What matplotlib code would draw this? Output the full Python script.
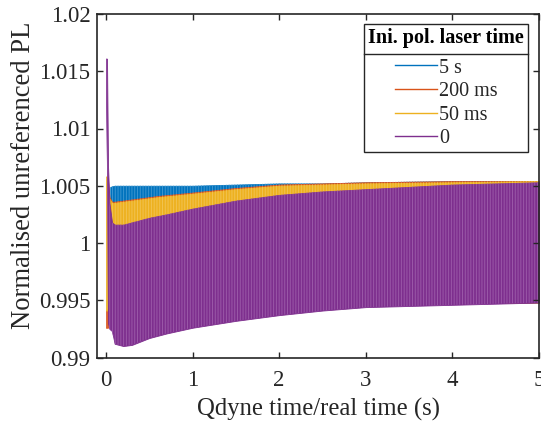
import matplotlib
matplotlib.use("Agg")
import matplotlib.pyplot as plt
from matplotlib.lines import Line2D
from matplotlib.ticker import FixedLocator, FuncFormatter

plt.rcParams['font.family'] = ['Liberation Serif', 'DejaVu Serif']
plt.rcParams['hatch.linewidth'] = 0.7

# Envelopes (upper / lower extent of the oscillating PL signal) per initial polarisation time
t_5s = [0.05, 0.1, 0.3, 0.6, 1.0, 1.5, 2.0, 2.5, 3.0, 4.0, 5.0]
up_5s = [1.0049, 1.0050, 1.0050, 1.0050, 1.0050, 1.0051, 1.0052, 1.0052, 1.0053, 1.0054, 1.0054]
lo_5s = [0.9947, 0.9948, 0.9948, 0.9948, 0.9948, 0.9948, 0.9948, 0.9948, 0.9948, 0.9948, 0.9948]

t_200ms = [0.0, 0.023, 0.04, 0.07, 0.1, 0.3, 0.6, 1.0, 1.5, 2.0, 2.5, 3.0, 4.0, 5.0]
up_200ms = [1.0055, 1.0055, 1.0040, 1.0036, 1.0036, 1.0038, 1.0041, 1.0044, 1.0048, 1.0051, 1.0052, 1.0053, 1.0054, 1.0054]
lo_200ms = [0.9926, 0.9926, 0.9935, 0.9944, 0.9946, 0.9946, 0.9947, 0.9947, 0.9947, 0.9947, 0.9947, 0.9948, 0.9948, 0.9948]

t_50ms = [0.0, 0.012, 0.03, 0.07, 0.1, 0.3, 0.6, 1.0, 1.5, 2.0, 2.5, 3.0, 4.0, 5.0]
up_50ms = [1.0058, 1.0058, 1.0040, 1.0035, 1.0035, 1.0037, 1.0040, 1.0043, 1.0047, 1.0050, 1.0051, 1.0052, 1.0053, 1.0054]
lo_50ms = [0.9941, 0.9941, 0.9944, 0.9945, 0.9946, 0.9946, 0.9947, 0.9947, 0.9947, 0.9947, 0.9947, 0.9948, 0.9948, 0.9948]

t_0 = [0.0, 0.012, 0.024, 0.04, 0.07, 0.1, 0.2, 0.3, 0.5, 0.7, 1.0, 1.5, 2.0, 2.5, 3.0, 3.5, 4.0, 4.5, 5.0]
up_0 = [1.0161, 1.0161, 1.0067, 1.0035, 1.0018, 1.0016, 1.0016, 1.0018, 1.0022, 1.0025, 1.0030, 1.0037, 1.0042, 1.0045, 1.0047, 1.0049, 1.0051, 1.0052, 1.0053]
lo_0 = [1.0127, 1.0067, 0.9930, 0.9925, 0.9923, 0.9912, 0.9910, 0.9911, 0.9917, 0.9921, 0.9926, 0.9932, 0.9937, 0.9941, 0.9944, 0.9945, 0.9946, 0.9947, 0.9948]

labels = ['5 s', '200 ms', '50 ms', '0']
colors = ['#0072BD', '#D95319', '#EDB120', '#7E2F8E']
stripe_colors = ['#3a95d0', '#e07a4c', '#f2c350', '#9a58a8']
series = [(t_5s, up_5s, lo_5s), (t_200ms, up_200ms, lo_200ms),
          (t_50ms, up_50ms, lo_50ms), (t_0, up_0, lo_0)]

x_ticks = [0, 1, 2, 3, 4, 5]
y_ticks = [0.99, 0.995, 1.0, 1.005, 1.01, 1.015, 1.02]

W, H = 541, 425
fig = plt.figure(figsize=(W / 100, H / 100), dpi=100)
ax = fig.add_axes([97.3 / W, 1 - 357.5 / H, (539 - 97.3) / W, (357.5 - 14) / H])

axcol = '#262626'
handles = []
for (t, up, lo), c, sc, lab in zip(series, colors, stripe_colors, labels):
    # solid band of the signal's oscillation range, with fine vertical stripes
    ax.fill_between(t, lo, up, facecolor=c, edgecolor=c, linewidth=0.6)
    ax.fill_between(t, lo, up, facecolor='none', edgecolor=sc, linewidth=0,
                    hatch='||||||')
    handles.append(Line2D([0], [0], color=c, lw=1.0, label=lab))

ax.set_xlim(-0.1, 5)
ax.set_ylim(0.99, 1.02)
ax.xaxis.set_major_locator(FixedLocator(x_ticks))
ax.yaxis.set_major_locator(FixedLocator(y_ticks))
ax.yaxis.set_major_formatter(FuncFormatter(lambda v, p: f"{v:g}"))
ax.xaxis.set_major_formatter(FuncFormatter(lambda v, p: f"{v:g}"))
ax.tick_params(direction='in', top=True, right=True, length=4, width=1.0,
               colors=axcol, labelsize=16.5)
ax.tick_params(axis='x', pad=9)
ax.tick_params(axis='y', pad=5)
for lbl in ax.get_xticklabels() + ax.get_yticklabels():
    lbl.set_color(axcol)
for s in ax.spines.values():
    s.set_color(axcol)
    s.set_linewidth(1.2)

ax.set_xlabel('Qdyne time/real time (s)', fontsize=17.8, color=axcol, labelpad=5)
ax.set_ylabel('Normalised unreferenced PL', fontsize=19.2, color=axcol)
ax.yaxis.set_label_coords(-0.138, 0.531)

leg = ax.legend(handles=handles, title='Ini. pol. laser time', loc='upper right',
                bbox_to_anchor=(528 / W, 1 - 24 / H), bbox_transform=fig.transFigure,
                fontsize=14.5, title_fontproperties={'weight': 'bold', 'size': 14.5},
                frameon=True, fancybox=False, edgecolor=axcol, framealpha=1,
                handlelength=2.1, handletextpad=0.1, labelspacing=0.22,
                borderpad=0.2, borderaxespad=0, alignment='center')
leg._legend_box.sep = 7.5  # extra room between the title band and the entries
leg.get_frame().set_linewidth(1.0)
for txt in leg.get_texts():
    txt.set_color(axcol)
leg.get_title().set_color('black')

# divider between the legend title and its entries
fig.canvas.draw()
r = fig.canvas.get_renderer()
fb = leg.get_frame().get_window_extent(r)
tb = leg.get_title().get_window_extent(r)
ysep = tb.y0 - 5.5
fig.add_artist(Line2D([fb.x0 / W, fb.x1 / W], [ysep / H, ysep / H],
                      transform=fig.transFigure, color=axcol, lw=1.0))

fig.savefig('out.png', dpi=100)
